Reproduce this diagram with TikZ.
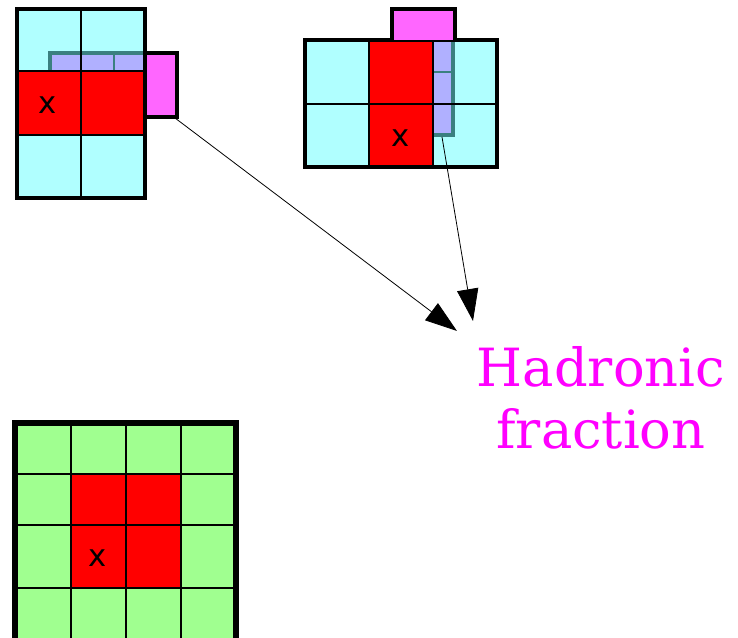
\documentclass[tikz,border=0pt]{standalone}
\usepackage{fontspec}
\setmainfont{DejaVu Serif}
\newfontfamily\cellfont{DejaVu Sans}
\usetikzlibrary{arrows.meta}
\definecolor{cellcyan}{HTML}{B0FFFF}
\definecolor{cellred}{HTML}{FF0000}
\definecolor{celllav}{HTML}{B0B0FF}
\definecolor{cellmag}{HTML}{FF66FF}
\definecolor{cellgreen}{HTML}{A0FF90}
\definecolor{edgeteal}{HTML}{3A8080}
\definecolor{hfmag}{HTML}{FF00FF}

\begin{document}
\begin{tikzpicture}[x=0.75pt,y=-0.75pt,>={Triangle[length=24pt,width=16pt]},
  thin line/.style={line width=1.5pt},
  thick line/.style={line width=3.5pt},
  cell label/.style={font=\cellfont\fontsize{23}{23}\selectfont}]
\useasboundingbox (0,0) rectangle (738,638);
% top left window, 2 x 3
\fill[cellcyan] (17,9) rectangle (145,198);
\fill[cellred] (17,71) rectangle (145,135);
\fill[celllav] (50,53) rectangle (145,71);
\draw[edgeteal,thin line] (114,53) -- (114,71);
\draw[edgeteal,thick line] (50,71) -- (50,53) -- (145,53);
\draw[thin line] (81,9) -- (81,198) (17,71) -- (145,71) (17,135) -- (145,135);
\draw[thick line] (17,9) rectangle (145,198);
\draw[thick line,fill=cellmag] (145,53) rectangle (177,117);
\coordinate (magL) at (175,118);
\node[cell label] (xL) at (48,105) {x};
% top right window, 3 x 2
\fill[cellcyan] (305,40) rectangle (497,167);
\fill[cellred] (369,40) rectangle (433,167);
\fill[celllav] (433,40) rectangle (453,135);
\draw[edgeteal,thin line] (433,72) -- (453,72);
\draw[edgeteal,thick line] (453,42) -- (453,135) -- (433,135);
\draw[thin line] (369,40) -- (369,167) (433,40) -- (433,167) (305,104) -- (497,104);
\draw[thick line] (305,40) rectangle (497,167);
\draw[thick line,fill=cellmag] (392,40) -- (392,9) -- (455,9) -- (455,40);
\coordinate (lavR) at (442,137);
\node[cell label] (xR) at (401,138) {x};
% bottom window, 4 x 4
\begin{scope}
\clip (0,0) rectangle (738,638);
\fill[cellgreen] (15,423) rectangle (236,660);
\fill[cellred] (71,474) rectangle (181,588);
\foreach \gx in {71,126,181} \draw[thin line] (\gx,423) -- (\gx,660);
\foreach \gy in {474,525,588} \draw[thin line] (15,\gy) -- (236,\gy);
\draw[line width=4pt] (15,660) -- (15,423) -- (236,423) -- (236,660);
\end{scope}
\node[cell label] (xB) at (98,558) {x};
% target
\node[text=hfmag,align=center,font=\fontsize{39.5}{46}\selectfont] (hf) at (601,398) {Hadronic\\fraction};
\coordinate (hfA) at (457,331);
\coordinate (hfB) at (473,321);
\draw[->,line width=0.6pt] (magL) -- (hfA);
\draw[->,line width=0.6pt] (lavR) -- (hfB);
\end{tikzpicture}
\end{document}
